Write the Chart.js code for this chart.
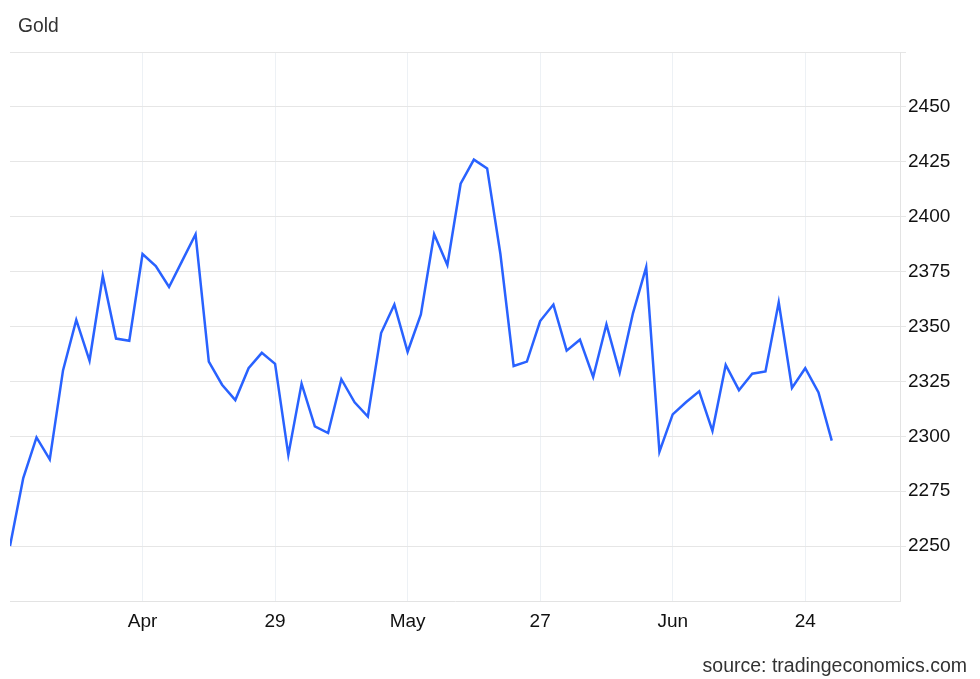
<!DOCTYPE html>
<html>
<head>
<meta charset="utf-8">
<title>Gold</title>
<script src="https://cdn.jsdelivr.net/npm/chart.js@4.4.1/dist/chart.umd.min.js"></script>
<style>
    body { margin: 0; background: #fff; font-family: 'Liberation Sans', Arial, sans-serif; }
    #wrap { position: relative; width: 980px; height: 679px; }
    #chart { position: absolute; left: 0; top: 0; }
    .titulo { position: absolute; left: 18px; top: 16px; font-size: 19.3px; line-height: 19px; color: #333; }
    .fuente { position: absolute; right: 13px; top: 656px; font-size: 19.5px; line-height: 19px; color: #333; }
</style>
</head>
<body>
<div id="wrap">
    <canvas id="chart" width="980" height="679"></canvas>
    <div class="titulo">Gold</div>
    <div class="fuente">source: tradingeconomics.com</div>
</div>
<script>
// precios diarios (uno por sesion)
const goldPrices = [
    2250, 2281, 2299.5, 2289.5, 2330, 2353, 2334.5, 2373, 2344.5, 2343.5,
    2383, 2377.5, 2368, 2380, 2392, 2334, 2323.5, 2316.5, 2331, 2338,
    2333, 2291.5, 2324, 2304.5, 2301.5, 2326, 2315.5, 2309, 2347, 2360,
    2338.5, 2355.5, 2392, 2378, 2415, 2426, 2422, 2383, 2332, 2334,
    2352.5, 2360, 2339, 2344, 2327, 2351, 2329, 2356, 2377, 2293,
    2310, 2315.5, 2320.5, 2302.5, 2332.5, 2321, 2328.5, 2329.5, 2361, 2322,
    2331, 2320, 2298
];

// etiquetas del eje x y la sesion donde caen
const tickIndex = [10, 20, 30, 40, 50, 60];
const tickLabels = ['Apr', '29', 'May', '27', 'Jun', '24'];

// eje y
const yMin = 2225;
const yMax = 2475;
const yStep = 25;

const puntos = goldPrices.map((v, i) => ({ x: i, y: v }));

Chart.defaults.font.family = "'Liberation Sans', Arial, sans-serif";
Chart.defaults.font.size = 19;
Chart.defaults.color = '#111';

new Chart(document.getElementById('chart').getContext('2d'), {
    type: 'line',
    data: {
        datasets: [{
            label: 'Gold',
            data: puntos,
            borderColor: '#2962ff',
            borderWidth: 2.5,
            pointRadius: 0,
            tension: 0,
            fill: false
        }]
    },
    options: {
        responsive: false,
        animation: false,
        layout: { padding: { left: 10, top: 52, right: 0, bottom: 0 } },
        plugins: {
            legend: { display: false },
            tooltip: { enabled: false }
        },
        scales: {
            x: {
                type: 'linear',
                min: 0,
                max: 67.15,
                afterBuildTicks: scale => { scale.ticks = tickIndex.map(v => ({ value: v })); },
                afterFit: scale => { scale.height = 78; },
                grid: { color: '#edf1f5', lineWidth: 1, drawTicks: false },
                border: { display: true, color: '#e3e3e3' },
                ticks: {
                    padding: 9,
                    maxRotation: 0,
                    autoSkip: false,
                    callback: v => {
                        const k = tickIndex.indexOf(v);
                        return k >= 0 ? tickLabels[k] : '';
                    }
                }
            },
            y: {
                position: 'right',
                min: yMin,
                max: yMax,
                afterFit: scale => { scale.width = 80; },
                grid: {
                    // la linea de abajo ya la pone el eje x
                    color: ctx => (ctx.tick && ctx.tick.value === yMin) ? 'rgba(0,0,0,0)' : '#e6e6e6',
                    lineWidth: 1,
                    tickLength: 6
                },
                border: { display: true, color: '#e3e3e3' },
                ticks: {
                    stepSize: yStep,
                    padding: 2,
                    callback: v => (v === yMin || v === yMax) ? '' : v
                }
            }
        }
    }
});
</script>
</body>
</html>
